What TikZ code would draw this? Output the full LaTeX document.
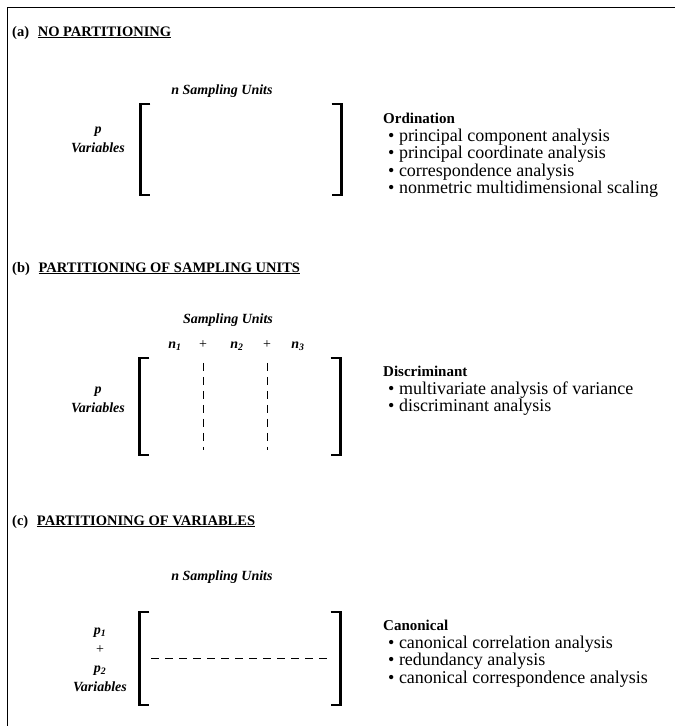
\documentclass[tikz,border=0pt]{standalone}
\usepackage{fontspec}
\setmainfont{Liberation Serif}
\usetikzlibrary{positioning}

\begin{document}
\begin{tikzpicture}[x=1pt,y=-1pt,
  title/.style={anchor=base west, inner sep=0, font=\fontsize{14.5}{16}\selectfont\bfseries},
  lab/.style={inner sep=0, font=\fontsize{14}{19}\selectfont\bfseries\itshape, align=center},
  head/.style={anchor=base west, inner sep=0, font=\fontsize{15}{17}\selectfont\bfseries},
  item/.style={anchor=base west, inner sep=0, font=\fontsize{18}{17.5}\selectfont},
  mat/.style={minimum width=201pt, inner sep=0},
  brk/.style={line width=2.5pt},
  part/.style={line width=0.7pt, dash pattern=on 8pt off 6pt}]
\useasboundingbox (0,0) rectangle (675,726);
\draw[line width=1pt] (675,7) -- (7,7) -- (7,726);

% (a) no partitioning
\node[title] (ta) at (12,36) {(a)\hspace{0.6em}\underline{NO PARTITIONING}};
\node[mat, minimum height=91pt] (ma) at (241,149.5) {};
\draw[brk] ([xshift=10pt]ma.north west) -- (ma.north west) -- (ma.south west) -- ([xshift=10pt]ma.south west);
\draw[brk] ([xshift=-10pt]ma.north east) -- (ma.north east) -- (ma.south east) -- ([xshift=-10pt]ma.south east);
\node[lab] (sa) at (222,91) {n Sampling Units};
\node[lab] (va) at (98,140) {p\\Variables};
\node[head] (ha) at (383,123) {Ordination};
\foreach \t [count=\i] in {principal component analysis, principal coordinate analysis,
    correspondence analysis, nonmetric multidimensional scaling}
  \node[item] (la\i) at (388,{141+17.5*(\i-1)}) {\textbullet\ \t};

% (b) partitioning of sampling units
\node[title] (tb) at (12,272) {(b)\hspace{0.6em}\underline{PARTITIONING OF SAMPLING UNITS}};
\node[mat, minimum height=97pt] (mb) at (240,406.5) {};
\draw[brk] ([xshift=10pt]mb.north west) -- (mb.north west) -- (mb.south west) -- ([xshift=10pt]mb.south west);
\draw[brk] ([xshift=-10pt]mb.north east) -- (mb.north east) -- (mb.south east) -- ([xshift=-10pt]mb.south east);
\node[lab] (sb) at (228,320) {Sampling Units};
\node[lab] (n1) at (175,346) {n\textsubscript{1}};
\node[lab, font=\fontsize{14}{17}\selectfont] (pl1) at (203,345) {+};
\node[lab] (n2) at (237,346) {n\textsubscript{2}};
\node[lab, font=\fontsize{14}{17}\selectfont] (pl2) at (267,345) {+};
\node[lab] (n3) at (298,346) {n\textsubscript{3}};
\draw[part] ([yshift=-5pt]mb.north -| pl1) -- ([yshift=5pt]mb.south -| pl1);
\draw[part] ([yshift=-5pt]mb.north -| pl2) -- ([yshift=5pt]mb.south -| pl2);
\node[lab] (vb) at (98,400) {p\\Variables};
\node[head] (hb) at (383,376) {Discriminant};
\foreach \t [count=\i] in {multivariate analysis of variance, discriminant analysis}
  \node[item] (lb\i) at (388,{394+17.5*(\i-1)}) {\textbullet\ \t};

% (c) partitioning of variables
\node[title] (tc) at (12,525) {(c)\hspace{0.6em}\underline{PARTITIONING OF VARIABLES}};
\node[mat, minimum height=93pt] (mc) at (240,658.5) {};
\draw[brk] ([xshift=10pt]mc.north west) -- (mc.north west) -- (mc.south west) -- ([xshift=10pt]mc.south west);
\draw[brk] ([xshift=-10pt]mc.north east) -- (mc.north east) -- (mc.south east) -- ([xshift=-10pt]mc.south east);
\node[lab] (sc) at (222,577) {n Sampling Units};
\node[lab] (vc) at (100,660) {p\textsubscript{1}\\{\upshape\mdseries +}\\p\textsubscript{2}\\Variables};
\draw[part] ([xshift=12pt]mc.west) -- ([xshift=-12pt]mc.east);
\node[head] (hc) at (383,630) {Canonical};
\foreach \t [count=\i] in {canonical correlation analysis, redundancy analysis,
    canonical correspondence analysis}
  \node[item] (lc\i) at (388,{648+17.5*(\i-1)}) {\textbullet\ \t};
\end{tikzpicture}
\end{document}
